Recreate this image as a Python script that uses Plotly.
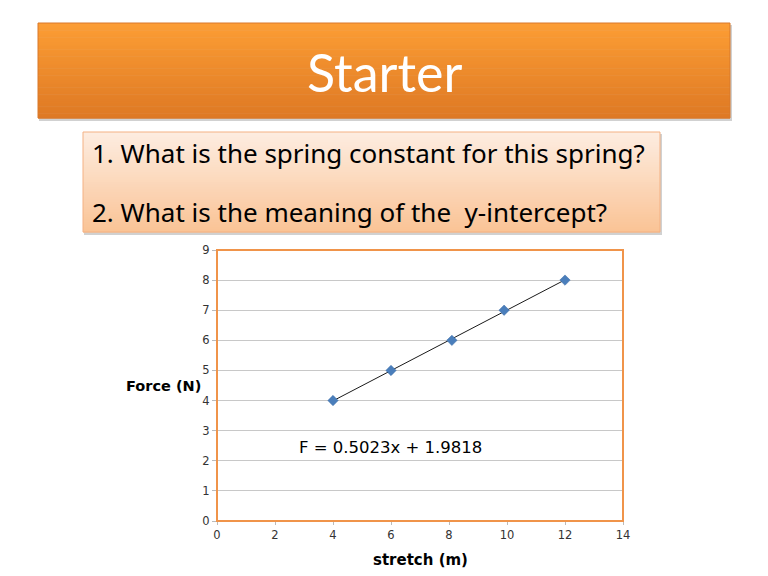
import plotly.graph_objects as go

# Data
stretch_m = [4, 6, 8.1, 9.9, 12]
force_n = [4, 5, 6, 7, 8]
fit_slope = 0.5023
fit_intercept = 1.9818
x_ticks = [0, 2, 4, 6, 8, 10, 12, 14]
y_ticks = [0, 1, 2, 3, 4, 5, 6, 7, 8, 9]
title_text = "Starter"
question_lines = ["1. What is the spring constant for this spring?",
                  "2. What is the meaning of the  y-intercept?"]
equation_text = "F = 0.5023x + 1.9818"
x_title = "stretch (m)"
y_title = "Force (N)"

W, H = 768, 576

def px(x):
    return x / W

def py(y):
    return 1 - y / H

def lerp_color(c1, c2, t):
    return "rgb(%d,%d,%d)" % tuple(round(a + (b - a) * t) for a, b in zip(c1, c2))

shapes = []

def gradient_box(x0, y0, x1, y1, c_top, c_bot, border, n=40, shadow=True):
    if shadow:
        shapes.append(dict(type="rect", xref="paper", yref="paper",
                           x0=px(x0 + 1), x1=px(x1 + 2), y0=py(y0 + 2), y1=py(y1 + 3),
                           fillcolor="rgba(0,0,0,0.18)", line=dict(width=0), layer="below"))
    h = (y1 - y0) / n
    for i in range(n):
        t = i / (n - 1)
        shapes.append(dict(type="rect", xref="paper", yref="paper",
                           x0=px(x0), x1=px(x1), y0=py(y0 + i * h), y1=py(y0 + (i + 1) * h + 0.6),
                           fillcolor=lerp_color(c_top, c_bot, t), line=dict(width=0), layer="below"))
    shapes.append(dict(type="rect", xref="paper", yref="paper",
                       x0=px(x0), x1=px(x1), y0=py(y0), y1=py(y1),
                       fillcolor="rgba(0,0,0,0)", line=dict(color=border, width=1), layer="below"))

gradient_box(38, 23, 730, 118, (252, 157, 52), (222, 121, 36), "#D9782A")
gradient_box(83, 132, 660, 232, (253, 236, 224), (250, 196, 150), "#F4B183")

fit_x = [min(stretch_m), max(stretch_m)]
fit_y = [fit_slope * v + fit_intercept for v in fit_x]

fig = go.Figure()
fig.add_trace(go.Scatter(x=fit_x, y=fit_y, mode="lines",
                         line=dict(color="#1a1a1a", width=1), hoverinfo="skip"))
fig.add_trace(go.Scatter(x=stretch_m, y=force_n, mode="markers",
                         marker=dict(symbol="diamond", size=8, color="#4A7EBB",
                                     line=dict(color="#3B6BA5", width=0.5))))

# plot border (orange)
shapes.append(dict(type="rect", xref="x domain", yref="y domain", x0=0, x1=1, y0=0, y1=1,
                   line=dict(color="#F0944A", width=2), fillcolor="rgba(0,0,0,0)", layer="above"))

annotations = [
    dict(text=title_text, xref="paper", yref="paper", x=px(384), y=py(72),
         showarrow=False, font=dict(family="Lato, DejaVu Sans", size=52, color="white"),
         xanchor="center", yanchor="middle"),
    dict(text=question_lines[0], xref="paper", yref="paper", x=px(90), y=py(153),
         showarrow=False, font=dict(family="Noto Sans, DejaVu Sans", size=26, color="black"),
         xanchor="left", yanchor="middle"),
    dict(text=question_lines[1], xref="paper", yref="paper", x=px(90), y=py(212),
         showarrow=False, font=dict(family="Noto Sans, DejaVu Sans", size=26, color="black"),
         xanchor="left", yanchor="middle"),
    dict(text=equation_text, xref="paper", yref="paper", x=px(297), y=py(447),
         showarrow=False, font=dict(family="DejaVu Sans", size=16.5, color="black"),
         xanchor="left", yanchor="middle"),
    dict(text="<b>" + y_title + "</b>", xref="paper", yref="paper", x=px(163), y=py(386),
         showarrow=False, font=dict(family="DejaVu Sans", size=14.5, color="black"),
         xanchor="center", yanchor="middle"),
    dict(text="<b>" + x_title + "</b>", xref="paper", yref="paper", x=px(420), y=py(560),
         showarrow=False, font=dict(family="DejaVu Sans", size=15, color="black"),
         xanchor="center", yanchor="middle"),
]

fig.update_layout(
    width=W, height=H,
    margin=dict(l=0, r=0, t=0, b=0),
    paper_bgcolor="white", plot_bgcolor="white",
    showlegend=False,
    shapes=shapes, annotations=annotations,
    xaxis=dict(domain=[px(217), px(623)], range=[0, 14], tickvals=x_ticks,
               showgrid=False, zeroline=False, showline=False,
               ticks="outside", ticklen=3, tickcolor="#BBBBBB",
               tickfont=dict(family="DejaVu Sans", size=11.5, color="#333333"),
               automargin=False, fixedrange=True),
    yaxis=dict(domain=[py(521), py(250)], range=[0, 9], tickvals=y_ticks,
               showgrid=True, gridcolor="#C8C8C8", gridwidth=1.3, zeroline=False, showline=False,
               ticks="outside", ticklen=4, tickcolor="#BBBBBB",
               tickfont=dict(family="DejaVu Sans", size=11.5, color="#333333"),
               automargin=False, fixedrange=True),
)

fig.write_html("out.html", config={"displayModeBar": False},
               post_script="document.body.style.margin='0';")
